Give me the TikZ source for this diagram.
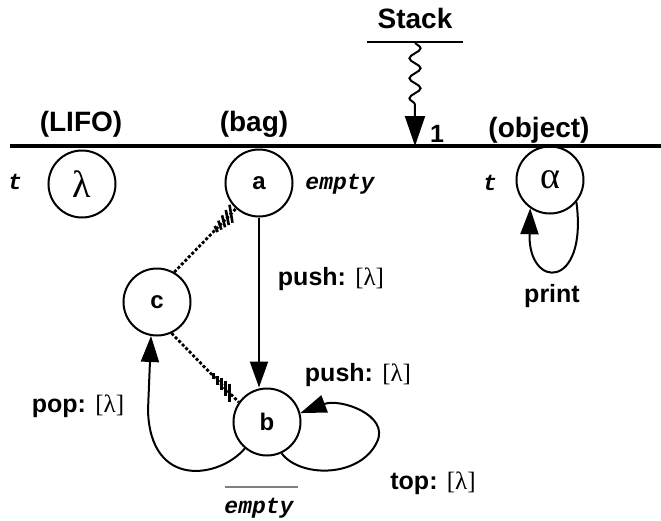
\documentclass[tikz,border=0pt]{standalone}
\usepackage{fontspec}
\setmainfont{Liberation Sans}
\newfontfamily\courfont{Liberation Mono}
\newfontfamily\gkfont{Liberation Serif}
\usetikzlibrary{arrows.meta,calc,decorations.pathmorphing}

\begin{document}
\begin{tikzpicture}[x=0.5pt,y=-0.5pt,
  state/.style={circle, draw, line width=1pt, minimum size=33.5pt, inner sep=0pt, font=\fontsize{12}{14}\selectfont\bfseries},
  greek/.style={state, font=\fontsize{19}{21}\selectfont\gkfont},
  lbl/.style={font=\fontsize{12.5}{15}\selectfont\bfseries, inner sep=0pt},
  big/.style={font=\fontsize{14}{16}\selectfont\bfseries, inner sep=0pt},
  cour/.style={font=\fontsize{11.5}{13}\selectfont\courfont\bfseries\itshape, inner sep=0pt},
  edge/.style={line width=1pt, -{Triangle[length=13pt,width=9pt]}},
  hatch/.style={line width=1.4pt, dash pattern=on 1.5pt off 1pt},
  tick/.style={line width=1.3pt}]
\newcommand\lam{{\gkfont\mdseries[λ]}}
\useasboundingbox (0,0) rectangle (661,521);
% stack and the line below it
\node[big] (stack) at (415,18) {Stack};
\coordinate (sl) at (367,42);
\coordinate (sr) at (463,42);
\draw[line width=1.2pt] (sl) -- (sr);
\coordinate (wtop) at (415,42);
\coordinate (wbot) at (415,146);
\draw[line width=1pt, -{Triangle[length=15pt,width=10pt]}, decorate, decoration={snake, amplitude=2.8pt, segment length=10pt, post length=17pt}] (wtop) -- (wbot);
\node[lbl] (one) at (437,134) {1};
\coordinate (ll) at (10,146);
\coordinate (lr) at (661,146);
\draw[line width=1.8pt] (ll) -- (lr);
\node[big] (lifo) at (81,124) {(LIFO)};
\node[big] (bag) at (254,124) {(bag)};
\node[big] (obj) at (539,130) {(object)};
% states
\node[greek] (lam) at (82,184) {λ};
\node[state] (a) at (259,183) {a};
\node[greek] (alph) at (550,180) {α};
\node[state] (c) at (157,302) {c};
\node[state] (b) at (267,422) {b};
\node[cour] (t0) at (15,182) {t};
\node[cour] (t1) at (490,183) {t};
\node[cour] (ea) at (340,184) {empty};
\node[cour] (eb) at (259,508) {empty};
\coordinate (ul) at (225,487);
\coordinate (ur) at (298,487);
\draw[line width=0.6pt, gray] (ul) -- (ur);
% transitions
\draw[edge] (a) -- (a |- b.north);
\node[lbl] (pusha) at (331,279) {push: \lam};
\draw[edge] (b.-130) .. controls (220,478) and (150,490) .. (148,410) -- (c.-100);
\node[lbl] (pop) at (78,406) {pop: \lam};
\draw[edge] (b.-65) .. controls (300,478) and (360,478) .. (377,442) .. controls (390,415) and (340,398) .. (b.15);
\node[lbl] (pushb) at (358,375) {push: \lam};
\node[lbl] (top) at (433,483) {top: \lam};
\draw[edge] (alph.-40) .. controls (588,290) and (528,290) .. (alph.-125);
\node[lbl] (print) at (552,296) {print};
% dashed links with hatching
\draw[hatch] (c.60) -- (a.-132);
\draw[hatch] (c.-65) -- (b.145);
\foreach \p/\q/\h in {0.68/0.62/3,0.74/0.68/4.5,0.80/0.74/6,0.86/0.80/7.5,0.92/0.86/9} {
  \draw[tick] ($(c.60)!\p!(a.-132)$) ++(-1.5,-\h) -- ++(3,2*\h);
  \draw[tick] ($(c.-65)!\q!(b.145)$) ++(0,-\h) -- ++(0,2*\h);
}
\end{tikzpicture}
\end{document}
